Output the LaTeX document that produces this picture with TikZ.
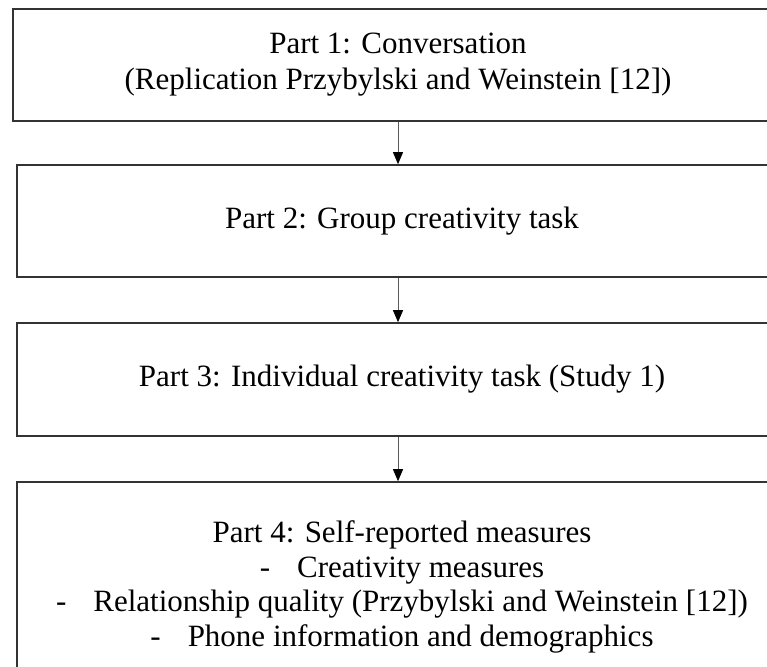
\documentclass[tikz,border=0pt]{standalone}
\usepackage{fontspec}
\setmainfont{Liberation Serif}
\usetikzlibrary{arrows.meta}
\begin{document}
\begin{tikzpicture}[x=1pt,y=-1pt]
	\useasboundingbox (0,0) rectangle (767,666);
	\begin{scope}
	
	\tikzstyle{partbox}=[rectangle,
	draw=black!80,
	line width=1.6pt,
	inner sep=0pt,
	align=center,
	minimum width=770pt,
	font=\fontsize{31}{36}\selectfont
	]
	\tikzstyle{flow}=[draw=black!65,
	line width=0.9pt,
	-{Triangle[width=10pt,length=12pt,color=black]}
	]
	
	\coordinate (pb1) at (398, 65);
	\coordinate (pb2) at (402, 221);
	\coordinate (pb3) at (402, 379.5);
	\coordinate (pb4) at (402, 587);
	
	
	\node[partbox, minimum height=112pt] (b1) at (pb1) {Part 1: Conversation\\(Replication Przybylski and Weinstein [12])};
	\node[partbox, minimum height=112pt] (b2) at (pb2) {Part 2: Group creativity task};
	\node[partbox, minimum height=113pt] (b3) at (pb3) {Part 3: Individual creativity task (Study 1)};
	\node[partbox, minimum height=210pt, font=\fontsize{31}{34.5}\selectfont] (b4) at (pb4) {Part 4: Self-reported measures\\
		-\hspace{27pt}Creativity measures\\
		-\hspace{27pt}Relationship quality (Przybylski and Weinstein [12])\\
		-\hspace{27pt}Phone information and demographics};
	
	\draw[flow] (b1.south) -- (b1.south |- b2.north);
	\draw[flow] (b2.south -| b1.south) -- (b1.south |- b3.north);
	\draw[flow] (b3.south -| b1.south) -- (b1.south |- b4.north);
	
	
	\end{scope}
\end{tikzpicture}
\end{document}
